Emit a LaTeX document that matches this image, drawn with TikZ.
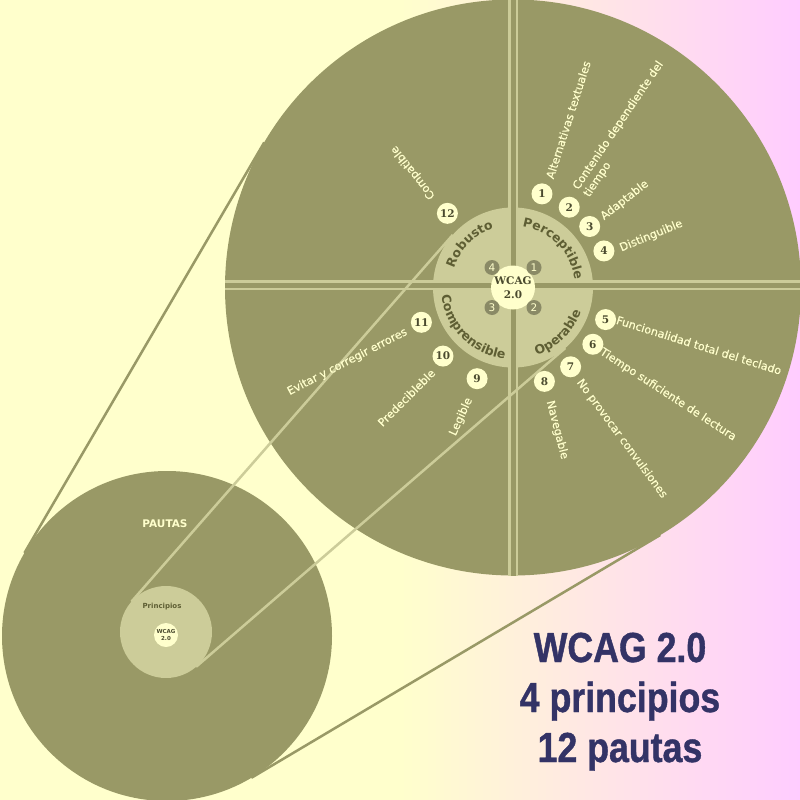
\documentclass[tikz,border=0pt]{standalone}
\usepackage{fontspec}
\setmainfont{DejaVu Sans}
\newfontfamily\numfont{DejaVu Serif}
\newfontfamily\labfont[FakeBold=0.4]{DejaVu Sans}
\newfontfamily\titlefont[FakeStretch=0.85,FakeBold=1]{Liberation Sans}
\usetikzlibrary{calc,decorations.text}
\definecolor{bgY}{HTML}{FFFFCC}
\definecolor{bgP}{HTML}{FFCCFF}
\definecolor{olive}{HTML}{999966}
\definecolor{lolive}{HTML}{CCCC99}
\definecolor{dolive}{HTML}{5E5E33}
\definecolor{cream}{HTML}{FFFFCC}
\definecolor{numtxt}{HTML}{4A4A2E}
\definecolor{dotfill}{HTML}{8A8A66}
\definecolor{navy}{HTML}{333366}
\begin{document}
\begin{tikzpicture}[x=1pt,y=1pt,
  numc/.style={circle, fill=cream, minimum size=21pt, inner sep=0pt, text=numtxt,
    font=\numfont\bfseries\fontsize{10.5}{11}\selectfont},
  dotc/.style={circle, fill=dotfill, minimum size=15pt, inner sep=0pt, text=cream,
    font=\fontsize{10.5}{11}\selectfont},
  lab/.style={inner sep=0pt, text=cream, font=\labfont\fontsize{11.2}{13}\selectfont},
  arctext/.style={decorate, decoration={text along path, text align=center,
    text color=dolive, text={|\bfseries\fontsize{12.5}{13}\selectfont|#1}}},
  titletxt/.style={anchor=base, inner sep=0pt, text=navy,
    font=\titlefont\bfseries\fontsize{42}{42}\selectfont}
]
\useasboundingbox (0,0) rectangle (800,-800);
% background
\fill[bgY] (0,0) rectangle (400.5,-800);
\shade[left color=bgY, right color=bgP] (400,0) rectangle (800,-800);

% centres
\coordinate (C) at (513,-287.5);
\coordinate (S) at (167,-636);
\coordinate (P) at (166,-632);

% outer tangents (dark)
\coordinate (t1a) at ($(C)+(149.75:288)$);
\coordinate (t1b) at ($(S)+(149.75:165)$);
\coordinate (t2a) at ($(C)+(-59.25:288)$);
\coordinate (t2b) at ($(S)+(-59.25:165)$);
\draw[olive, line width=2.5] (t1a) -- (t1b);
\draw[olive, line width=2.5] (t2a) -- (t2b);

% dark circles
\fill[olive] (C) circle[radius=288];
\fill[olive] (S) circle[radius=165];

% light circles
\fill[lolive] (C) circle[radius=80];
\fill[lolive] (P) circle[radius=46];

% dividers
\coordinate (vT) at ($(C)+(0,288)$);
\coordinate (vB) at ($(C)+(0,-288)$);
\coordinate (hL) at ($(C)+(-288,2.5)$);
\coordinate (hR) at ($(C)+(288,2.5)$);
\draw[lolive, line width=10] (vT) -- (vB);
\draw[lolive, line width=10] (hL) -- (hR);
\draw[olive, line width=5] (vT) -- (vB);
\draw[olive, line width=5] (hL) -- (hR);

% inner tangents (light)
\coordinate (la1) at ($(C)+(138.8:80)$);
\coordinate (la2) at ($(P)+(138.8:46)$);
\coordinate (lb1) at ($(C)+(-49.15:80)$);
\coordinate (lb2) at ($(P)+(-49.15:46)$);
\draw[lolive, line width=2.5] (la1) -- (la2);
\draw[lolive, line width=2.5] (lb1) -- (lb2);

% centre
\node[circle, fill=cream, minimum size=44pt, inner sep=0pt, align=center, text=numtxt,
  font=\numfont\bfseries\fontsize{10.5}{14.5}\selectfont] (wc) at (C) {WCAG\\2.0};
\node[dotc] (d1) at ($(C)+(21,20)$) {1};
\node[dotc] (d2) at ($(C)+(21,-20)$) {2};
\node[dotc] (d3) at ($(C)+(-21,-20)$) {3};
\node[dotc] (d4) at ($(C)+(-21,20)$) {4};

% principles along arcs
\path[arctext=Perceptible] ($(C)+(86:62)$) arc[start angle=86, end angle=2, radius=62];
\path[arctext=Robusto] ($(C)+(176:62)$) arc[start angle=176, end angle=94, radius=62];
\path[arctext=Comprensible] ($(C)+(176:72)$) arc[start angle=176, end angle=274, radius=72];
\path[arctext=Operable] ($(C)+(266:72)$) arc[start angle=266, end angle=364, radius=72];

% guideline circles
\node[numc] (n1) at ($(C)+(72.8:98)$) {1};
\node[numc] (n2) at ($(C)+(55:98)$) {2};
\node[numc] (n3) at ($(C)+(38.5:98)$) {3};
\node[numc] (n4) at ($(C)+(21.9:98)$) {4};
\node[numc] (n5) at ($(C)+(-19.1:98)$) {5};
\node[numc] (n6) at ($(C)+(-35.4:98)$) {6};
\node[numc] (n7) at ($(C)+(-54:98)$) {7};
\node[numc] (n8) at ($(C)+(-71.5:99)$) {8};
\node[numc] (n9) at ($(C)+(248.5:98)$) {9};
\node[numc] (n10) at ($(C)+(224.4:98)$) {10};
\node[numc] (n11) at ($(C)+(200.8:98)$) {11};
\node[numc] (n12) at ($(C)+(131.5:99)$) {12};

% guideline labels
\node[lab, anchor=west, rotate=72.3] (l1) at ($(C)+(71.5:115)$) {Alternativas textuales};
\node[lab, anchor=west, rotate=56, align=left] (l2) at ($(C)+(54.4:117)$) {Contenido dependiente del\\tiempo};
\node[lab, anchor=west, rotate=38] (l3) at ($(C)+(38:113)$) {Adaptable};
\node[lab, anchor=west, rotate=22.4] (l4) at ($(C)+(19.9:114)$) {Distinguible};
\node[lab, anchor=west, rotate=-17.3] (l5) at ($(C)+(-17.2:108.5)$) {Funcionalidad total del teclado};
\node[lab, anchor=west, rotate=-33] (l6) at ($(C)+(-35.9:108.5)$) {Tiempo suficiente de lectura};
\node[lab, anchor=west, rotate=-53.6] (l7) at ($(C)+(-54.7:114)$) {No provocar convulsiones};
\node[lab, anchor=west, rotate=-75.5] (l8) at ($(C)+(-72.1:119)$) {Navegable};
\node[lab, anchor=east, rotate=65.4] (l9) at ($(C)+(248.6:119)$) {Legible};
\node[lab, anchor=east, rotate=45] (l10) at ($(C)+(226.2:115.5)$) {Predecibleble};
\node[lab, anchor=east, rotate=27.3] (l11) at ($(C)+(202.4:115)$) {Evitar y corregir errores};
\node[lab, anchor=west, rotate=128] (l12) at ($(C)+(131.8:120)$) {Compatible};

% small circle texts
\node[inner sep=0pt, text=cream, font=\bfseries\fontsize{10.5}{12}\selectfont] (pautas) at (165,-524) {PAUTAS};
\node[inner sep=0pt, text=dolive, font=\bfseries\fontsize{7}{8}\selectfont] (princ) at (162,-607) {Principios};
\node[circle, fill=cream, minimum size=24pt, inner sep=0pt, align=center, text=numtxt,
  font=\bfseries\fontsize{5.5}{7}\selectfont] (mw) at (166,-635) {WCAG\\2.0};

% title
\node[titletxt] (tt1) at (620,-662) {WCAG 2.0};
\node[titletxt] (tt2) at (620,-712) {4 principios};
\node[titletxt] (tt3) at (620,-762) {12 pautas};
\end{tikzpicture}
\end{document}
